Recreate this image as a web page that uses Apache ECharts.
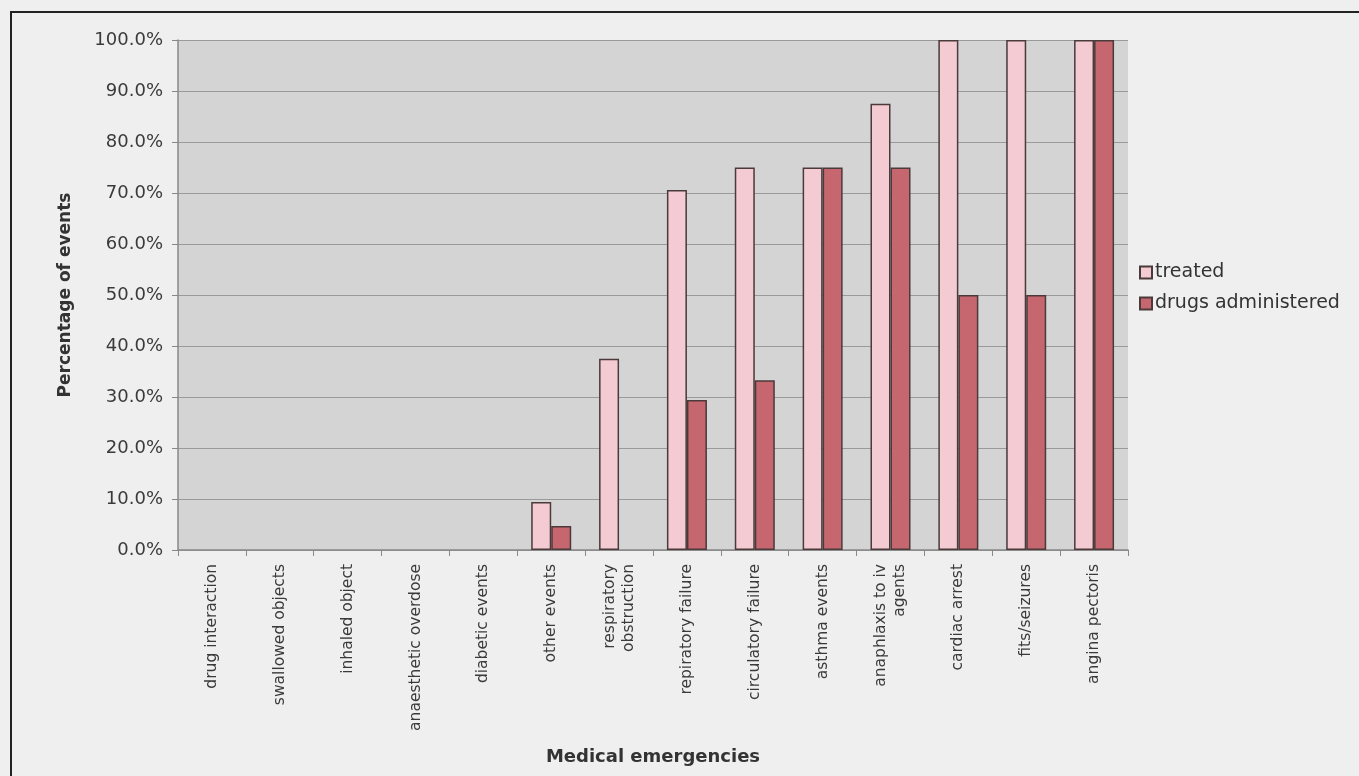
<!DOCTYPE html>
<html>
<head>
<meta charset="utf-8">
<script src="https://cdn.jsdelivr.net/npm/echarts@6/dist/echarts.min.js"></script>
<style>
  html, body { margin: 0; padding: 0; background: #efefef; }
  #chart { width: 1359px; height: 776px; }
</style>
</head>
<body>
<div id="chart"></div>
<script>
// Medical emergency categories along the x axis
const categories = [
  'drug interaction', 'swallowed objects', 'inhaled object', 'anaesthetic overdose',
  'diabetic events', 'other events', 'respiratory\nobstruction', 'repiratory failure',
  'circulatory failure', 'asthma events', 'anaphlaxis to iv\nagents', 'cardiac arrest',
  'fits/seizures', 'angina pectoris'
];
// Percentage of events treated
const treated = [0, 0, 0, 0, 0, 9.4, 37.5, 70.6, 75.0, 75.0, 87.5, 100, 100, 100];
// Percentage of events where drugs were administered
const drugsAdministered = [0, 0, 0, 0, 0, 4.7, 0, 29.4, 33.3, 75.0, 75.0, 50.0, 50.0, 100];
// Y axis range and step (percent)
const yMin = 0, yMax = 100, yStep = 10;

// Zero-height bars get no outline so they leave no mark on the baseline
const asBars = values => values.map(v => v === 0
  ? { value: v, itemStyle: { borderWidth: 0 } }
  : v);

const chart = echarts.init(document.getElementById('chart'), null, { renderer: 'canvas' });
const font = '"DejaVu Sans", Verdana, sans-serif';
chart.setOption({
  backgroundColor: '#efefef',
  animation: false,
  graphic: [{
    type: 'rect',
    shape: { x: 11, y: 12, width: 1360, height: 780 },
    style: { fill: 'none', stroke: '#222', lineWidth: 2 },
    silent: true
  }],
  grid: {
    left: 178, top: 40, width: 950, height: 510,
    show: true, backgroundColor: '#d4d4d4', borderWidth: 0
  },
  legend: {
    orient: 'vertical', left: 1134, top: 258, itemGap: 12,
    itemWidth: 12, itemHeight: 12, icon: 'rect',
    textStyle: { fontFamily: font, fontSize: 19, color: '#333', padding: [0, 0, 0, -2] },
    data: ['treated', 'drugs administered']
  },
  xAxis: {
    type: 'category', data: categories,
    name: 'Medical emergencies', nameLocation: 'middle', nameGap: 198,
    nameTextStyle: { fontFamily: font, fontSize: 18, fontWeight: 'bold', color: '#333' },
    axisLine: { lineStyle: { color: '#888', width: 1.5 } },
    axisTick: { show: true, length: 6, lineStyle: { color: '#888' } },
    axisLabel: {
      rotate: 90, interval: 0, margin: 14,
      fontFamily: font, fontSize: 15.5, color: '#3a3a3a', lineHeight: 19
    }
  },
  yAxis: {
    type: 'value', min: yMin, max: yMax, interval: yStep,
    name: 'Percentage of events', nameLocation: 'middle', nameGap: 104,
    nameTextStyle: { fontFamily: font, fontSize: 17, fontWeight: 'bold', color: '#333' },
    axisLine: { show: true, lineStyle: { color: '#888', width: 1.5 } },
    axisTick: { show: true, length: 6, lineStyle: { color: '#888' } },
    axisLabel: {
      margin: 15, fontFamily: font, fontSize: 18, color: '#3a3a3a',
      formatter: v => v.toFixed(1) + '%'
    },
    splitLine: { show: true, lineStyle: { color: '#9a9a9a', width: 1.2 } }
  },
  series: [
    {
      name: 'treated', type: 'bar', data: asBars(treated),
      barWidth: 20, barGap: '0%',
      itemStyle: { color: '#f4cbd2', borderColor: '#4a3a3a', borderWidth: 1.5 }
    },
    {
      name: 'drugs administered', type: 'bar', data: asBars(drugsAdministered),
      barWidth: 20,
      itemStyle: { color: '#c6676f', borderColor: '#4a3a3a', borderWidth: 1.5 }
    }
  ]
});
</script>
</body>
</html>
